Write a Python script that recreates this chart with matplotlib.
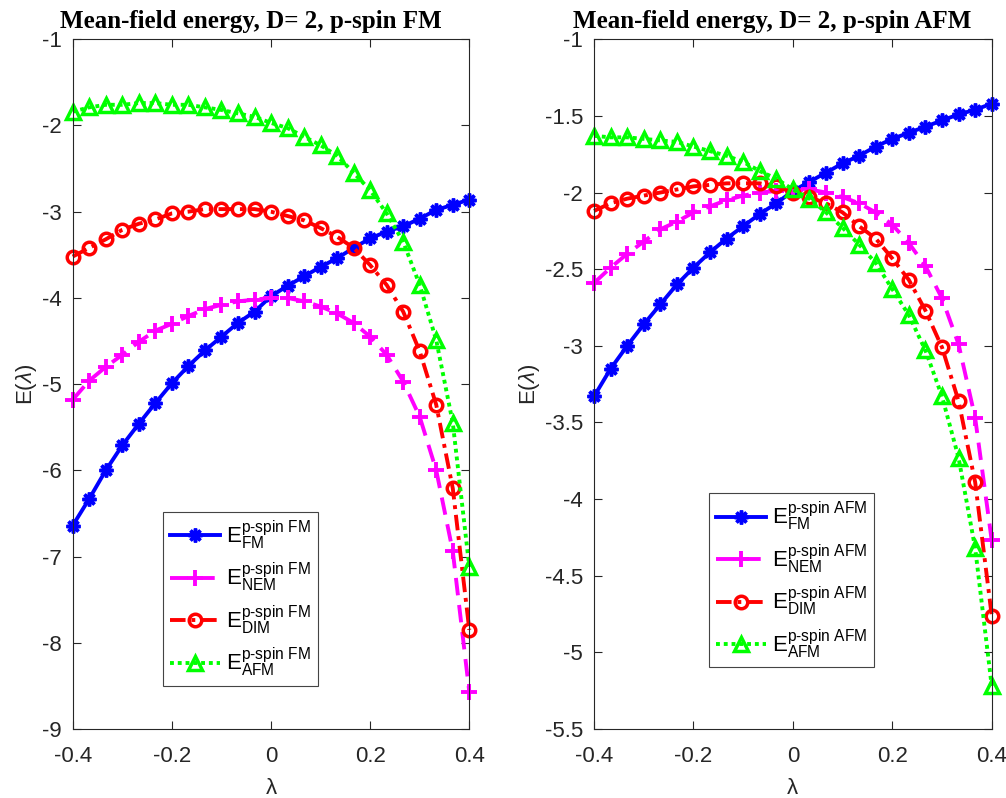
import numpy as np
import matplotlib as mpl
mpl.use("Agg")
import matplotlib.pyplot as plt

# lambda grid (25 points from -0.4 to 0.4)
lam = [-0.4, -0.3667, -0.3333, -0.3, -0.2667, -0.2333, -0.2, -0.1667, -0.1333, -0.1,
       -0.0667, -0.0333, 0.0, 0.0333, 0.0667, 0.1, 0.1333, 0.1667, 0.2, 0.2333,
       0.2667, 0.3, 0.3333, 0.3667, 0.4]

# p-spin FM panel
fm_FM = [-6.64, -6.33, -6.00, -5.71, -5.46, -5.22, -4.99, -4.79, -4.61, -4.45,
         -4.29, -4.16, -3.98, -3.86, -3.75, -3.64, -3.54, -3.42, -3.31, -3.23,
         -3.17, -3.08, -2.98, -2.92, -2.86]
fm_NEM = [-5.18, -4.96, -4.80, -4.66, -4.51, -4.38, -4.30, -4.21, -4.13, -4.08,
          -4.04, -4.02, -4.00, -4.00, -4.04, -4.10, -4.18, -4.29, -4.45, -4.66,
          -4.97, -5.38, -6.00, -6.94, -8.57]
fm_DIM = [-3.52, -3.42, -3.32, -3.21, -3.14, -3.09, -3.02, -3.00, -2.97, -2.97,
          -2.97, -2.97, -3.00, -3.05, -3.10, -3.19, -3.29, -3.42, -3.62, -3.85,
          -4.16, -4.62, -5.24, -6.21, -7.85]
fm_AFM = [-1.84, -1.79, -1.76, -1.76, -1.74, -1.74, -1.76, -1.76, -1.79, -1.82,
          -1.86, -1.90, -1.97, -2.03, -2.13, -2.23, -2.35, -2.55, -2.75, -3.02,
          -3.35, -3.85, -4.49, -5.45, -7.12]

# p-spin AFM panel
afm_FM = [-3.33, -3.15, -3.00, -2.86, -2.73, -2.60, -2.49, -2.39, -2.30, -2.22,
          -2.14, -2.07, -1.99, -1.93, -1.87, -1.81, -1.76, -1.70, -1.65, -1.61,
          -1.57, -1.53, -1.49, -1.46, -1.42]
afm_NEM = [-2.59, -2.49, -2.40, -2.32, -2.24, -2.19, -2.13, -2.09, -2.05, -2.02,
           -2.00, -1.99, -1.99, -1.98, -2.00, -2.03, -2.07, -2.13, -2.21, -2.33,
           -2.48, -2.69, -2.99, -3.47, -4.27]
afm_DIM = [-2.12, -2.07, -2.04, -2.02, -2.00, -1.98, -1.96, -1.95, -1.94, -1.94,
           -1.94, -1.96, -2.00, -2.03, -2.07, -2.13, -2.22, -2.30, -2.43, -2.57,
           -2.77, -3.01, -3.36, -3.89, -4.76]
afm_AFM = [-1.63, -1.64, -1.64, -1.65, -1.66, -1.67, -1.70, -1.73, -1.76, -1.80,
           -1.86, -1.91, -1.98, -2.04, -2.13, -2.23, -2.34, -2.46, -2.63, -2.80,
           -3.03, -3.33, -3.73, -4.32, -5.22]

states = ['FM', 'NEM', 'DIM', 'AFM']

mpl.rcParams['font.family'] = 'Liberation Sans'
mpl.rcParams['font.size'] = 16
mpl.rcParams['mathtext.fontset'] = 'custom'
mpl.rcParams['mathtext.rm'] = 'Liberation Sans'
mpl.rcParams['mathtext.it'] = 'Liberation Sans:italic'
mpl.rcParams['mathtext.sf'] = 'Liberation Sans'

axcol = '#262626'
styles = [
    dict(color='blue', ls='-', marker=(8, 2, 0), ms=10, mew=2.5),
    dict(color='magenta', ls=(0, (4.5, 2.5)), marker='+', ms=11, mew=2.8),
    dict(color='red', ls=(0, (4, 1.5, 1, 1.5)), marker='o', ms=9, mew=2.5, mfc='none'),
    dict(color='#00ff00', ls=(0, (1, 1)), marker='^', ms=10, mew=2.5, mfc='none'),
]


def panel(ax, series, kind, ylim, yticks, leg_xy):
    for ys, st, name in zip(series, styles, states):
        lbl = r'E$^{\mathrm{p\text{-}spin\ %s}}_{\mathrm{%s}}$' % (kind, name)
        ax.plot(lam, ys, lw=2.8, label=lbl, clip_on=False, **st)
    ax.set_xlim(-0.4, 0.4)
    ax.set_ylim(*ylim)
    ax.set_xticks([-0.4, -0.2, 0, 0.2, 0.4])
    ax.set_xticklabels(['-0.4', '-0.2', '0', '0.2', '0.4'])
    ax.set_yticks(yticks)
    ax.set_yticklabels(['%g' % t for t in yticks])
    ax.tick_params(direction='in', top=True, right=True, labelsize=16,
                   colors=axcol, length=6, width=0.8)
    ax.tick_params(axis='x', pad=12)
    ax.tick_params(axis='y', pad=8)
    for s in ax.spines.values():
        s.set_color(axcol)
        s.set_linewidth(0.8)
    ax.set_xlabel('λ', fontsize=16, color=axcol, labelpad=8)
    ax.set_ylabel(r'E($\lambda$)', fontsize=16, color=axcol, labelpad=2)
    ax.set_title('Mean-field energy, D= 2, p-spin ' + kind, fontsize=18,
                 fontweight='bold', family='Liberation Serif', pad=8, x=0.448)
    leg = ax.legend(loc='upper left', bbox_to_anchor=leg_xy, fontsize=16,
                    fancybox=False, framealpha=1, edgecolor='#444444',
                    handlelength=2.25, labelspacing=0.4, borderpad=0.3,
                    handletextpad=0.3, borderaxespad=0)
    leg.get_frame().set_linewidth(0.8)


fig = plt.figure(figsize=(10.06, 7.98), dpi=100)
ax1 = fig.add_axes([0.0723, 0.0865, 0.3942, 0.8643])
ax2 = fig.add_axes([0.5905, 0.0865, 0.3953, 0.8643])

panel(ax1, [fm_FM, fm_NEM, fm_DIM, fm_AFM], 'FM', (-9, -1),
      [-9, -8, -7, -6, -5, -4, -3, -2, -1], (0.228, 0.315))
panel(ax2, [afm_FM, afm_NEM, afm_DIM, afm_AFM], 'AFM', (-5.5, -1),
      [-5.5, -5, -4.5, -4, -3.5, -3, -2.5, -2, -1.5, -1], (0.289, 0.342))

fig.savefig('out.png', dpi=100)
